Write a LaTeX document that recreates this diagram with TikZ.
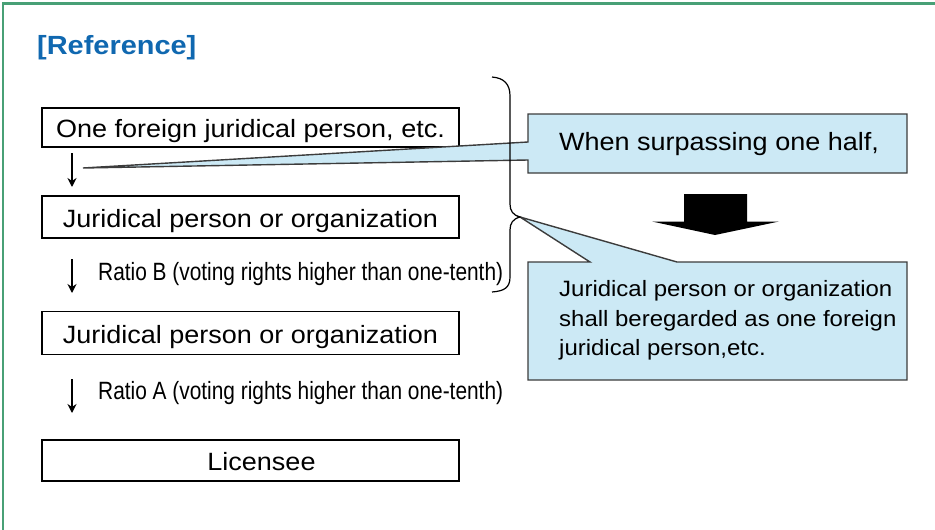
\documentclass[tikz,border=0pt]{standalone}
\usepackage{fontspec}
\setmainfont{Liberation Sans}
\newfontfamily\boxfont[FakeStretch=1.08]{Liberation Sans}
\newfontfamily\narrowfont[FakeStretch=0.835]{Liberation Sans}
\newfontfamily\titlefont[FakeStretch=1.1]{Liberation Sans}
\usetikzlibrary{arrows.meta}
\definecolor{framegreen}{RGB}{72,160,118}
\definecolor{titleblue}{RGB}{16,104,176}
\definecolor{calloutfill}{RGB}{204,233,245}
\definecolor{calloutdraw}{RGB}{60,60,60}
\tikzset{
  flowbox/.style={draw=black, line width=1.2pt, minimum width=417pt, inner sep=0pt,
    text height=20pt, text depth=0pt, font=\boxfont\fontsize{25}{30}\selectfont},
  smallarrow/.style={line width=1.6pt, -{Stealth[length=9pt,width=9pt]}},
  ratiotext/.style={anchor=base west, inner sep=0pt, font=\narrowfont\fontsize{25}{30}\selectfont},
  callout/.style={fill=calloutfill, draw=calloutdraw, line width=1.4pt, line join=miter},
  callouttext/.style={inner sep=0pt, font=\boxfont\fontsize{25}{29.5}\selectfont, align=left},
  calloutsmall/.style={inner sep=0pt, font=\boxfont\fontsize{22.2}{29.5}\selectfont, align=left},
  bracestyle/.style={draw=black, line width=1.2pt},
  blockarrow/.style={fill=black, draw=none}
}
\begin{document}
\begin{tikzpicture}[x=1pt, y=-1pt]
\useasboundingbox (0,0) rectangle (935,530);
% frame
\draw[framegreen, line width=2.5pt] (3,545) -- (3,3.5) -- (950,3.5);
% title
\node[anchor=base west, inner sep=0pt, text=titleblue, font=\titlefont\bfseries\fontsize{26.3}{30}\selectfont] (title) at (37,54) {[Reference]};

% boxes
\node[flowbox, minimum height=39pt] (b1) at (250.5,127.5) {One foreign juridical person, etc.};
\node[flowbox, minimum height=42pt] (b2) at (250.5,217) {Juridical person or organization};
\node[flowbox, minimum height=43pt] (b3) at (250.5,333) {Juridical person or organization};
\node[flowbox, minimum height=41pt] (b4) at (250.5,460.5) {\hspace*{22pt}Licensee};

% small arrows
\coordinate (a1s) at (72,153);
\coordinate (a1e) at (72,187);
\coordinate (a2s) at (72,259);
\coordinate (a2e) at (72,293);
\coordinate (a3s) at (72,379);
\coordinate (a3e) at (72,413);
\draw[smallarrow] (a1s) -- (a1e);
\draw[smallarrow] (a2s) -- (a2e);
\draw[smallarrow] (a3s) -- (a3e);

% ratio texts
\node[ratiotext] (rb) at (98,280) {Ratio B (voting rights higher than one-tenth)};
\node[ratiotext] (ra) at (98,399) {Ratio A (voting rights higher than one-tenth)};

% callout 1
\coordinate (tip1) at (83,168);
\draw[callout] (528,114) -- (907,114) -- (907,173) -- (528,173) -- (528,160) -- (tip1) -- (528,142) -- cycle;
\node[callouttext, anchor=base west] (c1) at (559,150.5) {When surpassing one half,};

% callout 2
\coordinate (tip2) at (520,217);
\draw[callout] (528,262) -- (590,262) -- (tip2) -- (677,262) -- (907,262) -- (907,380) -- (528,380) -- cycle;
\node[calloutsmall, anchor=base west] (c2l1) at (559,296.5) {Juridical person or organization};
\node[calloutsmall, anchor=base west] (c2l2) at (559,326) {shall beregarded as one foreign};
\node[calloutsmall, anchor=base west] (c2l3) at (559,355.5) {juridical person,etc.};

% brace
\draw[bracestyle] (492,77) .. controls (504,78) and (510,84) .. (510,96) -- (510,204)
  .. controls (510,211) and (513,215) .. (tip2)
  .. controls (513,219) and (510,223) .. (510,230) -- (510,277)
  .. controls (510,288) and (504,291) .. (492,292);

% block arrow
\fill[blockarrow] (684,194) -- (747,194) -- (747,221.5) -- (779,221.5) -- (715,235) -- (652,221.5) -- (684,221.5) -- cycle;
\end{tikzpicture}
\end{document}
